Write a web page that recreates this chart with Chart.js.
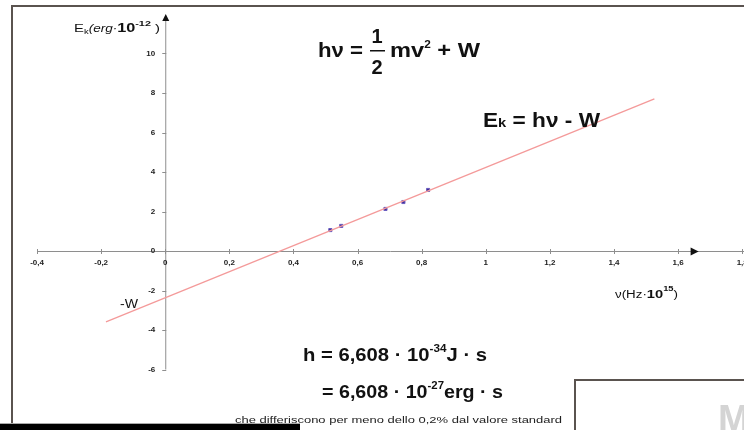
<!DOCTYPE html>
<html>
<head>
<meta charset="utf-8">
<script src="https://cdn.jsdelivr.net/npm/chart.js@4/dist/chart.umd.min.js"></script>
<style>
  html, body { margin: 0; padding: 0; background: #fff; }
  #wrap { width: 744px; height: 430px; position: relative; }
</style>
</head>
<body>
<div id="wrap"><canvas id="photo-chart"></canvas></div>
<script>
// measured points: frequency (10^15 Hz) vs kinetic energy (10^-12 erg)
const freqs = [0.515, 0.549, 0.687, 0.743, 0.820];
const energies = [1.06, 1.27, 2.13, 2.48, 3.09];

// ends of the fitted line  Ek = h*nu - W
const fitFreqs = [-0.185, 1.526];
const fitEnergies = [-3.59, 7.70];

// axis ticks
const xTicks = [-0.4, -0.2, 0, 0.2, 0.4, 0.6, 0.8, 1, 1.2, 1.4, 1.6, 1.8];
const xTickLabels = ["-0,4", "-0,2", "0", "0,2", "0,4", "0,6", "0,8", "1", "1,2", "1,4", "1,6", "1,8"];
const yTicks = [-6, -4, -2, 0, 2, 4, 6, 8, 10];
const yTickLabels = ["-6", "-4", "-2", "0", "2", "4", "6", "8", "10"];

const FONT = "'Liberation Sans', Arial, sans-serif";

function drawRuns(ctx, x, base, parts, targetW) {
    let total = 0;
    parts.forEach(p => { ctx.font = p[1]; total += ctx.measureText(p[0]).width; });
    const sx = targetW ? targetW / total : 1;
    ctx.save();
    ctx.translate(x, base);
    ctx.scale(sx, 1);
    let cx = 0;
    parts.forEach(p => {
        ctx.font = p[1];
        ctx.fillText(p[0], cx, p[2] || 0);
        cx += ctx.measureText(p[0]).width;
    });
    ctx.restore();
}

const axesPlugin = {
    id: 'axesPlugin',
    beforeDraw(chart) {
        const ctx = chart.ctx;
        ctx.save();
        ctx.fillStyle = '#fff';
        ctx.fillRect(0, 0, chart.width, chart.height);
        ctx.restore();
    },
    beforeDatasetsDraw(chart) {
        const ctx = chart.ctx;
        const xs = chart.scales.x, ys = chart.scales.y;
        const x0 = xs.getPixelForValue(0), y0 = ys.getPixelForValue(0);
        ctx.save();
        ctx.strokeStyle = '#8e8e8e';
        ctx.lineWidth = 1;
        // x axis
        ctx.beginPath();
        ctx.moveTo(xs.getPixelForValue(-0.4), y0 + 0.5);
        ctx.lineTo(chart.width, y0 + 0.5);
        ctx.stroke();
        // y axis
        ctx.beginPath();
        ctx.moveTo(x0 + 0.5, ys.getPixelForValue(-6));
        ctx.lineTo(x0 + 0.5, ys.getPixelForValue(11.7));
        ctx.stroke();
        // ticks
        ctx.beginPath();
        xTicks.forEach(v => {
            const px = Math.round(xs.getPixelForValue(v)) + 0.5;
            ctx.moveTo(px, y0 - 2); ctx.lineTo(px, y0 + 3);
        });
        yTicks.forEach(v => {
            const py = Math.round(ys.getPixelForValue(v)) + 0.5;
            ctx.moveTo(x0 - 3, py); ctx.lineTo(x0 + 1, py);
        });
        ctx.stroke();
        // arrows
        ctx.fillStyle = '#111';
        const ax = xs.getPixelForValue(1.664);
        ctx.beginPath();
        ctx.moveTo(ax, y0 + 0.5); ctx.lineTo(ax - 8, y0 - 3.5); ctx.lineTo(ax - 8, y0 + 4.5);
        ctx.closePath(); ctx.fill();
        const ay = ys.getPixelForValue(12);
        ctx.beginPath();
        ctx.moveTo(x0 + 0.5, ay); ctx.lineTo(x0 - 3, ay + 7); ctx.lineTo(x0 + 4, ay + 7);
        ctx.closePath(); ctx.fill();
        // tick labels
        ctx.fillStyle = '#222';
        ctx.font = 'bold 8px ' + FONT;
        ctx.textAlign = 'center';
        ctx.textBaseline = 'middle';
        xTicks.forEach((v, i) => ctx.fillText(xTickLabels[i], xs.getPixelForValue(v), y0 + 12));
        ctx.textAlign = 'right';
        yTicks.forEach((v, i) => ctx.fillText(yTickLabels[i], x0 - 10, ys.getPixelForValue(v)));
        ctx.restore();
    },
    afterDraw(chart) {
        const ctx = chart.ctx;
        ctx.save();
        ctx.fillStyle = '#111';
        ctx.textBaseline = 'alphabetic';
        ctx.textAlign = 'left';
        const B = 'bold 20px ' + FONT;

        // axis titles
        drawRuns(ctx, 74, 32, [
            ['E', '11px ' + FONT], ['k', '7px ' + FONT, 2], ['(erg·', 'italic 10px ' + FONT],
            ['10', 'bold 12px ' + FONT], ['-12', 'bold 8px ' + FONT, -6], [' )', '11px ' + FONT]
        ], 86);
        drawRuns(ctx, 615, 298, [
            ['ν(Hz·', '10px ' + FONT], ['10', 'bold 11px ' + FONT], ['15', 'bold 7px ' + FONT, -7], [')', '10px ' + FONT]
        ], 63);

        // hv = 1/2 mv^2 + W
        drawRuns(ctx, 318, 57, [['hν =', B]], 45);
        ctx.font = B;
        ctx.textAlign = 'center';
        ctx.fillText('1', 377, 43);
        ctx.fillText('2', 377, 74);
        ctx.fillRect(370, 50, 15, 1.5);
        ctx.textAlign = 'left';
        drawRuns(ctx, 390, 57, [['mv', B], ['2', 'bold 10px ' + FONT, -9], [' + W', B]], 90);

        // Ek = hv - W
        drawRuns(ctx, 483, 127, [['E', B], ['k', 'bold 13px ' + FONT], [' = hν - W', B]], 117);

        // -W
        drawRuns(ctx, 120, 308, [['-W', '13px ' + FONT]], 18);

        // h values
        const H = 'bold 19px ' + FONT, S = 'bold 11px ' + FONT;
        drawRuns(ctx, 303, 361, [['h = 6,608 · 10', H], ['-34', S, -9], ['J · s', H]], 184);
        drawRuns(ctx, 322, 398, [['= 6,608 · 10', H], ['-27', S, -9], ['erg · s', H]], 181);
        ctx.fillStyle = '#222';
        drawRuns(ctx, 235, 423, [['che differiscono per meno dello 0,2% dal valore standard', '9px ' + FONT]], 327);

        // frame and overlapping page bits
        ctx.fillStyle = '#5a534f';
        ctx.fillRect(11, 5, chart.width - 11, 2);
        ctx.fillRect(11, 5, 2, 420);
        ctx.fillStyle = '#fff';
        ctx.fillRect(576, 381, chart.width - 576, chart.height - 381);
        ctx.fillStyle = '#5a534f';
        ctx.fillRect(574, 379, chart.width - 574, 2);
        ctx.fillRect(574, 379, 2, chart.height - 379);
        ctx.fillStyle = '#d4d4d4';
        ctx.font = 'bold 38px ' + FONT;
        ctx.fillText('M', 718, 432);
        ctx.fillStyle = '#000';
        ctx.fillRect(0, 424, 300, 6);
        ctx.fillStyle = '#aaa';
        ctx.fillRect(0, 423, 300, 1);
        ctx.restore();
    }
};

new Chart(document.getElementById("photo-chart"), {
    type: 'scatter',
    data: {
        datasets: [
            {
                type: 'line',
                data: fitFreqs.map((f, i) => ({x: f, y: fitEnergies[i]})),
                borderColor: "#f49a9a",
                borderWidth: 1.3,
                pointRadius: 0,
                fill: false
            },
            {
                data: freqs.map((f, i) => ({x: f, y: energies[i]})),
                pointStyle: 'rect',
                pointRadius: 2.2,
                backgroundColor: "#3b2c95",
                borderColor: "#6a5cc0",
                borderWidth: 1
            }
        ]
    },
    options: {
        responsive: true,
        maintainAspectRatio: false,
        animation: false,
        layout: {padding: {left: 1, right: 0, top: 14, bottom: 21}},
        scales: {
            x: {type: 'linear', min: -0.5, max: 1.79, display: false},
            y: {type: 'linear', min: -8, max: 12, display: false}
        },
        plugins: {legend: {display: false}, tooltip: {enabled: false}}
    },
    plugins: [axesPlugin]
});
</script>
</body>
</html>
